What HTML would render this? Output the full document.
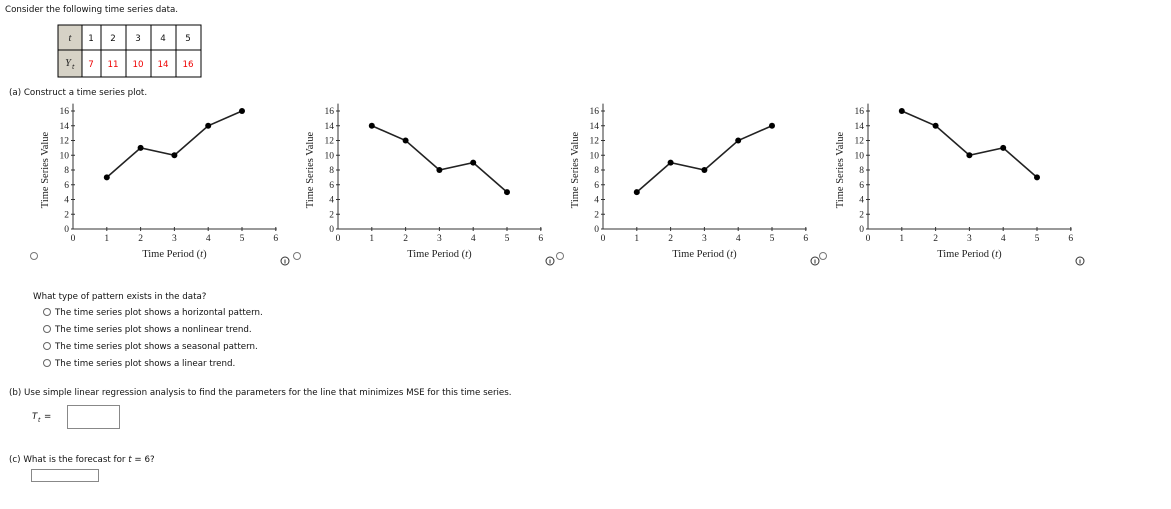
<!DOCTYPE html>
<html><head><meta charset="utf-8"><style>
body{margin:0;background:#fff;width:1171px;height:505px;overflow:hidden;font-family:"DejaVu Sans",sans-serif;}
svg text{font-family:"DejaVu Sans",sans-serif;font-size:8.7px;fill:#111}
svg text.serif{font-family:"Liberation Serif",serif;fill:#222}
svg text.tick{font-size:9.5px}
svg text.title{font-size:10.5px}
svg text.sub{font-size:6px}
</style></head><body>
<svg id="s" width="1171" height="505">
<text x="5" y="12">Consider the following time series data.</text>
<g>
<rect x="58" y="25" width="24" height="52" fill="#d6d2c6"/>
<rect x="58" y="25" width="143" height="52" fill="none" stroke="#000"/>
<line x1="58" y1="50" x2="201" y2="50" stroke="#000"/>
<line x1="82" y1="25" x2="82" y2="77" stroke="#000"/>
<line x1="101" y1="25" x2="101" y2="77" stroke="#000"/>
<line x1="126" y1="25" x2="126" y2="77" stroke="#000"/>
<line x1="151" y1="25" x2="151" y2="77" stroke="#000"/>
<line x1="176" y1="25" x2="176" y2="77" stroke="#000"/>
<text x="70" y="41" text-anchor="middle" font-style="italic" class="serif title">t</text>
<text x="68" y="66" text-anchor="middle" font-style="italic" class="serif title">Y</text><text x="72" y="69" class="sub" font-style="italic">t</text>
<text x="91" y="41" text-anchor="middle">1</text><text x="113" y="41" text-anchor="middle">2</text><text x="138" y="41" text-anchor="middle">3</text><text x="163" y="41" text-anchor="middle">4</text><text x="188" y="41" text-anchor="middle">5</text>
<text x="91" y="67" text-anchor="middle" style="fill:#e00">7</text><text x="113" y="67" text-anchor="middle" style="fill:#e00">11</text><text x="138" y="67" text-anchor="middle" style="fill:#e00">10</text><text x="163" y="67" text-anchor="middle" style="fill:#e00">14</text><text x="188" y="67" text-anchor="middle" style="fill:#e00">16</text>
</g>
<text x="9" y="95">(a)  Construct a time series plot.</text>
<g id="charts"></g>
<text x="33" y="299">What type of pattern exists in the data?</text>
<g>
<circle cx="47" cy="312" r="3.5" fill="#fff" stroke="#666"/><text x="55" y="315">The time series plot shows a horizontal pattern.</text>
<circle cx="47" cy="329" r="3.5" fill="#fff" stroke="#666"/><text x="55" y="332">The time series plot shows a nonlinear trend.</text>
<circle cx="47" cy="346" r="3.5" fill="#fff" stroke="#666"/><text x="55" y="349">The time series plot shows a seasonal pattern.</text>
<circle cx="47" cy="363" r="3.5" fill="#fff" stroke="#666"/><text x="55" y="366">The time series plot shows a linear trend.</text>
</g>
<text x="9" y="395">(b)  Use simple linear regression analysis to find the parameters for the line that minimizes MSE for this time series.</text>
<text x="32" y="419" font-style="italic">T</text><text x="38" y="422" class="sub" font-style="italic">t</text><text x="44" y="419">=</text>
<rect x="67.5" y="405.5" width="52" height="23" fill="#fff" stroke="#888"/>
<text x="9" y="462">(c)  What is the forecast for <tspan font-style="italic">t</tspan> = 6?</text>
<rect x="31.5" y="469.5" width="67" height="12" fill="#fff" stroke="#888"/>
</svg>
<script>
const xTicks=[0,1,2,3,4,5,6];
const yTicks=[0,2,4,6,8,10,12,14,16];
const periods=[1,2,3,4,5];
const seriesA=[7,11,10,14,16];
const seriesB=[14,12,8,9,5];
const seriesC=[5,9,8,12,14];
const seriesD=[16,14,10,11,7];
const allSeries=[seriesA,seriesB,seriesC,seriesD];
const NS="http://www.w3.org/2000/svg";
const root=document.getElementById('charts');
function mk(t,a,p){const e=document.createElementNS(NS,t);for(const k in a)e.setAttribute(k,a[k]);(p||root).appendChild(e);return e;}
allSeries.forEach((vals,ci)=>{
  const ox=73+ci*265, oy=229;
  const sx=v=>ox+v*33.8, sy=v=>oy-v*7.375;
  const g=mk('g',{});
  
  
  mk('line',{x1:ox,y1:oy,x2:sx(6)+1,y2:oy,stroke:'#333','stroke-width':1},g);
  mk('line',{x1:ox,y1:oy,x2:ox,y2:sy(17),stroke:'#333','stroke-width':1},g);
  xTicks.forEach(t=>{
    if(t>0)mk('line',{x1:sx(t),y1:oy-2,x2:sx(t),y2:oy+2,stroke:'#333','stroke-width':1},g);
    const tx=mk('text',{x:sx(t),y:oy+12,'text-anchor':'middle','class':'serif tick'},g);tx.textContent=t;
    
    
  });
  yTicks.forEach(t=>{
    mk('line',{x1:ox-2,y1:sy(t),x2:ox+2,y2:sy(t),stroke:'#333','stroke-width':1},g);
    const tx=mk('text',{x:ox-4,y:sy(t)+3,'text-anchor':'end','class':'serif tick'},g);tx.textContent=t;
    
    
  });
  const yt=mk('text',{x:0,y:0,'text-anchor':'middle','class':'serif title',transform:`translate(${ox-25},${sy(8)}) rotate(-90)`},g);
  yt.textContent='Time Series Value';
  
  
  const xt=mk('text',{x:sx(3),y:oy+28,'text-anchor':'middle','class':'serif title'},g);
  xt.innerHTML='Time Period (<tspan font-style="italic">t</tspan>)';
  
  
  const pts=periods.map((p,i)=>sx(p)+','+sy(vals[i])).join(' ');
  const pl=mk('polyline',{points:pts,fill:'none',stroke:'#222','stroke-width':1.6},g);
  
  
  periods.forEach((p,i)=>{
    const c=mk('circle',{cx:sx(p),cy:sy(vals[i]),r:3,fill:'#000'},g);
    
    
  });
  const r=mk('circle',{cx:34+ci*263,cy:256,r:3.5,fill:'#fff',stroke:'#777'},g);
  
  
  const ix=285+ci*265;
  const ic=mk('circle',{cx:ix,cy:261,r:4,fill:'#fff',stroke:'#333'},g);
  
  
  mk('line',{x1:ix,y1:259.5,x2:ix,y2:263.5,stroke:'#333'},g);
});
</script>
</body></html>
